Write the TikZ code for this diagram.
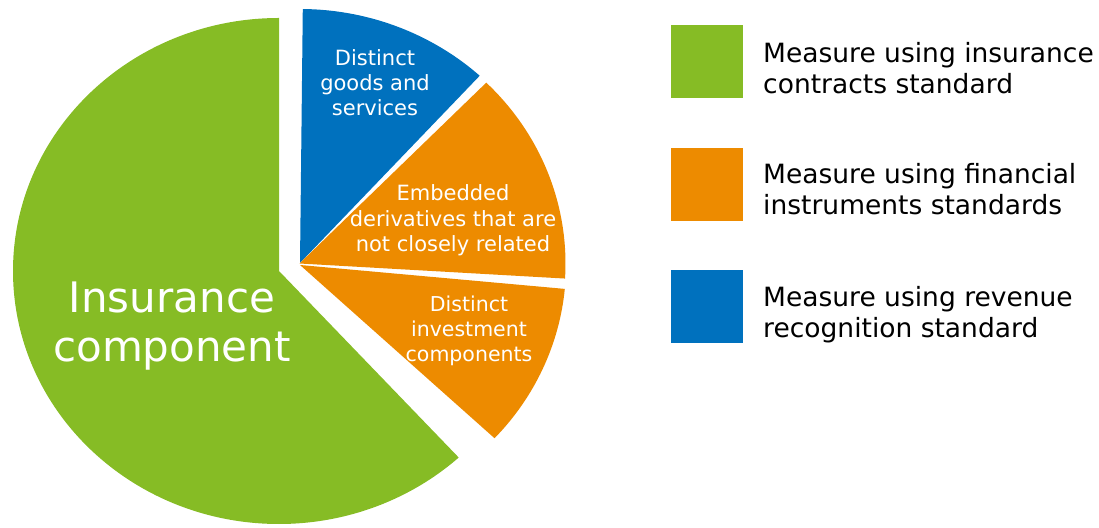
\documentclass[tikz,border=0pt]{standalone}
\usepackage{fontspec}
\setmainfont{DejaVu Sans}
\definecolor{insgreen}{RGB}{134,188,37}
\definecolor{finorange}{RGB}{237,139,0}
\definecolor{revblue}{RGB}{0,113,190}
\begin{document}
\begin{tikzpicture}[x=1pt,y=1pt,
  slicelabel/.style={text=white, align=center, anchor=base, inner sep=0pt},
  keybox/.style={minimum width=72pt, minimum height=73pt, inner sep=0pt, anchor=north west},
  keytext/.style={align=left, anchor=base west, inner sep=0pt,
    font=\fontsize{26.5}{31}\selectfont}]
\useasboundingbox (0,0) rectangle (1099,527);

% pie: large insurance slice
\coordinate (gA) at (279,256);
\fill[insgreen] (gA) -- ++(90:266pt and 253pt)
  arc[start angle=90, end angle=312.5, x radius=266pt, y radius=253pt] -- cycle;

% exploded slices
\coordinate (bA) at (300,264);
\fill[revblue] (bA) -- ++(47.5:266pt and 254pt)
  arc[start angle=47.5, end angle=89.4, x radius=266pt, y radius=254pt] -- cycle;
\coordinate (oA) at (299.5,263.5);
\fill[finorange] (oA) -- ++(-3.4:266pt and 254pt)
  arc[start angle=-3.4, end angle=45.4, x radius=266pt, y radius=254pt] -- cycle;
\coordinate (pA) at (300,262);
\fill[finorange] (pA) -- ++(-43:266pt and 254pt)
  arc[start angle=-43, end angle=-5.4, x radius=266pt, y radius=254pt] -- cycle;

% slice labels (placed by the baseline of their last line)
\node[slicelabel, font=\fontsize{42}{49}\selectfont] (ins) at (172,165)
  {Insurance\\component};
\node[slicelabel, font=\fontsize{21}{25}\selectfont] (goods) at (375,411)
  {Distinct\\goods and\\services};
\node[slicelabel, font=\fontsize{21}{25.5}\selectfont] (emb) at (453,275)
  {Embedded\\derivatives that are\\not closely related};
\node[slicelabel, font=\fontsize{20.5}{25}\selectfont] (inv) at (469,165)
  {Distinct\\investment\\components};

% legend
\node[keybox, fill=insgreen] (keyG) at (671,502) {};
\node[keybox, fill=finorange] (keyO) at (671,379) {};
\node[keybox, fill=revblue] (keyB) at (671,257) {};
\node[keytext] (txtG) at (763,433) {Measure using insurance\\contracts standard};
\node[keytext] (txtO) at (763,312) {Measure using financial\\instruments standards};
\node[keytext] (txtB) at (763,189) {Measure using revenue\\recognition standard};
\end{tikzpicture}
\end{document}
